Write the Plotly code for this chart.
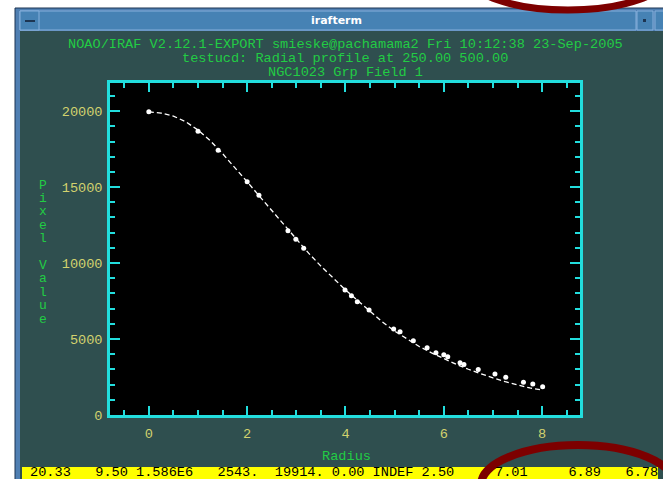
import plotly.graph_objects as go

# ---- data ----
fit_radius = [0.0, 0.25, 0.5, 0.75, 1.0, 1.25, 1.5, 1.75, 2.0, 2.25, 2.5, 2.75, 3.0, 3.25,
              3.5, 3.75, 4.0, 4.25, 4.5, 4.75, 5.0, 5.25, 5.5, 5.75, 6.0, 6.25, 6.5, 6.75,
              7.0, 7.25, 7.5, 7.75, 8.0]
fit_value = [19950, 19870, 19670, 19300, 18750, 18050, 17200, 16300, 15350, 14400, 13450,
             12500, 11550, 10650, 9800, 8980, 8230, 7520, 6800, 6130, 5520, 4990, 4510,
             4090, 3700, 3340, 3010, 2700, 2440, 2190, 1960, 1780, 1640]
pix_radius = [0.0, 1.0, 1.41, 2.0, 2.24, 2.83, 2.99, 3.15, 3.99, 4.12, 4.24, 4.48, 4.98,
              5.11, 5.38, 5.66, 5.84, 6.0, 6.08, 6.33, 6.41, 6.70, 7.04, 7.26, 7.62, 7.81, 8.01]
pix_value = [19950, 18680, 17430, 15350, 14470, 12120, 11560, 10970, 8220, 7850, 7460, 6910,
             5660, 5480, 4890, 4430, 4100, 3970, 3840, 3440, 3330, 3000, 2700, 2480, 2150,
             2040, 1860]
x_ticks = [0, 2, 4, 6, 8]
y_ticks = [0, 5000, 10000, 15000, 20000]
y_ticktext = ["0", "5000", "10000", "15000", "20000"]
header_lines = ["NOAO/IRAF V2.12.1-EXPORT smieske@pachamama2 Fri 10:12:38 23-Sep-2005",
                "testucd: Radial profile at 250.00 500.00",
                "NGC1023 Grp Field 1"]
status_text = "20.33   9.50 1.586E6   2543.  19914. 0.00 INDEF 2.50     7.01     6.89   6.78"
window_title = "irafterm"
x_title = "Radius"
y_title = "Pixel Value"

# ---- layout geometry (pixels) ----
W, H = 663, 479
L, R, T, B = 110, 580, 83, 415
PW, PH = R - L, B - T


def X(px):
    return (px - L) / PW


def Y(py):
    return (B - py) / PH


MONO = "Liberation Mono, DejaVu Sans Mono, monospace"
CYAN = "#22dede"
GREEN = "#22cc44"
YEL = "#d2d26e"
FS = 13.6

fig = go.Figure()
fig.add_trace(go.Scatter(x=fit_radius, y=fit_value, mode="lines",
                         line=dict(color="white", width=1.3, dash="5px,3px"),
                         hoverinfo="skip", showlegend=False))
fig.add_trace(go.Scatter(x=pix_radius, y=pix_value, mode="markers",
                         marker=dict(color="white", size=5, symbol="circle"),
                         showlegend=False))

shapes = []


def rect(x0, y0, x1, y1, fill, line=None, lw=0, layer="below"):
    shapes.append(dict(type="rect", xref="paper", yref="paper",
                       x0=X(x0), x1=X(x1), y0=Y(y0), y1=Y(y1),
                       fillcolor=fill, layer=layer,
                       line=dict(color=line or fill, width=lw)))


# window frame
rect(15, 8, 666, 482, "#4f7fb2", "#1d3552", 1)
# title bar
rect(20, 11, 636, 30, "#4682b4", "#86b0dc", 1)
rect(20, 11, 39, 30, "#4682b4", "#86b0dc", 1)
rect(25, 20, 35, 22, "#1d3552")
rect(637, 11, 653, 30, "#4682b4", "#86b0dc", 1)
rect(643, 19, 646, 22, "#1d3552")
rect(655, 11, 666, 30, "#4682b4", "#86b0dc", 1)
# content area
rect(20, 31, 666, 482, "#2f4f4f")
# status bar
rect(22, 467, 658, 482, "#ffff00")
# plot area
rect(L, T, R, B, "#000000")

# annotation ellipses
shapes.append(dict(type="circle", xref="paper", yref="paper", layer="above",
                   x0=X(568 - 101), x1=X(568 + 101), y0=Y(-26 - 36), y1=Y(-26 + 36),
                   line=dict(color="#7d0000", width=7)))
shapes.append(dict(type="circle", xref="paper", yref="paper", layer="above",
                   x0=X(578 - 97), x1=X(578 + 97), y0=Y(485 - 40), y1=Y(485 + 40),
                   line=dict(color="#7d0000", width=8)))

annotations = []


def text(px, py, s, color, size, family=MONO, xanchor="center"):
    annotations.append(dict(x=X(px), y=Y(py), xref="paper", yref="paper", text=s,
                            showarrow=False, xanchor=xanchor, yanchor="middle",
                            font=dict(family=family, size=size, color=color)))


text(336, 20, "<b>%s</b>" % window_title, "white", 11, family="DejaVu Sans, sans-serif")
for i, line in enumerate(header_lines):
    text(345, 45 + i * 13.5, line, GREEN, FS)
text(346, 456, x_title, GREEN, FS)
for i, ch in enumerate(y_title):
    if ch != " ":
        text(43, 185 + i * 13.4, ch, GREEN, 13)
text(28, 472, status_text, "black", FS, xanchor="left")

fig.update_layout(
    width=W, height=H,
    margin=dict(l=L, r=W - R, t=T, b=H - B, pad=0),
    paper_bgcolor="white", plot_bgcolor="rgba(0,0,0,0)",
    shapes=shapes, annotations=annotations,
    showlegend=False,
    xaxis=dict(range=[-0.79, 8.77], tickvals=x_ticks, ticks="inside", ticklen=9,
               tickwidth=2, tickcolor=CYAN, showline=True, linecolor=CYAN, linewidth=2.5,
               mirror="allticks", showgrid=False, zeroline=False,
               tickfont=dict(family=MONO, size=FS, color=YEL), ticklabelstandoff=4,
               minor=dict(dtick=0.5, tick0=0, ticks="inside", ticklen=5, tickwidth=2,
                          tickcolor=CYAN, showgrid=False)),
    yaxis=dict(range=[0, 21850], tickvals=y_ticks, ticktext=y_ticktext, ticks="inside",
               ticklen=10, tickwidth=2, tickcolor=CYAN, showline=True, linecolor=CYAN,
               linewidth=2.5, mirror="allticks", showgrid=False, zeroline=False,
               tickfont=dict(family=MONO, size=FS, color=YEL), ticklabelstandoff=2,
               minor=dict(dtick=1000, tick0=0, ticks="inside", ticklen=5, tickwidth=2,
                          tickcolor=CYAN, showgrid=False)),
)

fig.write_html("out.html")
